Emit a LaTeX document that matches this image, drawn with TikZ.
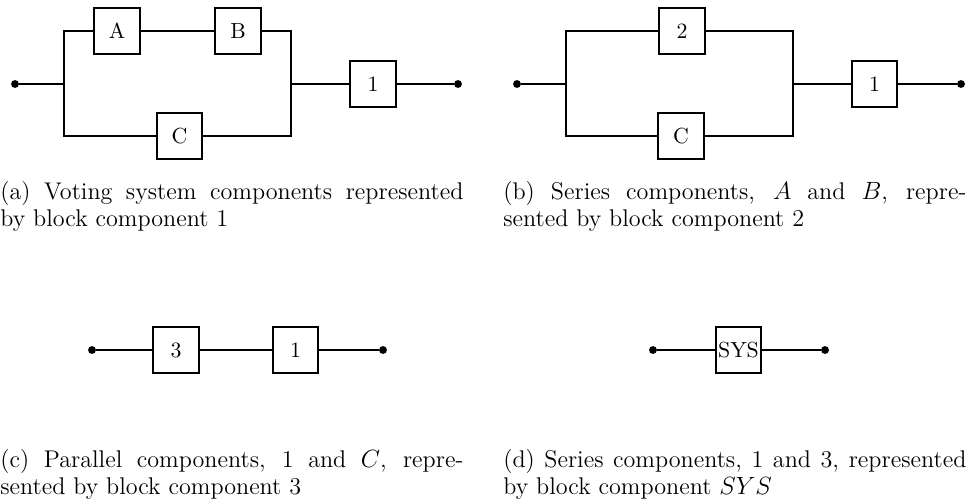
\documentclass[tikz,border=0pt]{standalone}
\usepackage{amsmath,amssymb}
\usepackage{tikz}
\usetikzlibrary{positioning, calc}

\begin{document}
\begin{tikzpicture}[x=0.4808pt, y=-0.4808pt,
  blk/.style={draw, line width=0.9pt, minimum size=22pt, inner sep=0pt, font=\fontsize{10.5}{12}\selectfont},
  dot/.style={circle, fill, inner sep=0pt, minimum size=3.8pt},
  wire/.style={line width=0.9pt},
  capt/.style={anchor=north west, inner sep=0pt, text width=222.6pt, align=justify, font=\fontsize{11.6}{13}\selectfont}]
\useasboundingbox (0,0) rectangle (970,504);

% (a) voting system
\node[dot] (a-s) at (15,84) {};
\coordinate (a-jl) at (64,84);
\coordinate (a-jr) at (291,84);
\node[blk] (a-A) at (117,31) {A};
\node[blk] (a-B) at (238,31) {B};
\node[blk] (a-C) at (179.5,136) {C};
\node[blk] (a-1) at (373,84) {1};
\node[dot] (a-t) at (458,84) {};
\draw[wire] (a-s) -- (a-jl);
\draw[wire] (a-A.west) -| (a-jl) |- (a-C.west);
\draw[wire] (a-A) -- (a-B);
\draw[wire] (a-B.east) -| (a-jr) |- (a-C.east);
\draw[wire] (a-jr) -- (a-1) -- (a-t);
\node[capt] (a-cap) at (0,181) {(a) Voting system components represented\linebreak by block component 1};

% (b) A and B in series -> 2
\node[dot] (b-s) at (517,84) {};
\coordinate (b-jl) at (566,84);
\coordinate (b-jr) at (793,84);
\node[blk] (b-2) at (682,31) {2};
\node[blk] (b-C) at (681,136) {C};
\node[blk] (b-1) at (874.5,84) {1};
\node[dot] (b-t) at (961,84) {};
\draw[wire] (b-s) -- (b-jl);
\draw[wire] (b-2.west) -| (b-jl) |- (b-C.west);
\draw[wire] (b-2.east) -| (b-jr) |- (b-C.east);
\draw[wire] (b-jr) -- (b-1) -- (b-t);
\node[capt] (b-cap) at (503,181) {(b) Series components, $A$ and $B$, repre-\linebreak sented by block component 2};

% (c) 1 and C in parallel -> 3
\node[dot] (c-s) at (92,350) {};
\node[blk] (c-3) at (176,350) {3};
\node[blk] (c-1) at (295.5,350) {1};
\node[dot] (c-t) at (383,350) {};
\draw[wire] (c-s) -- (c-3) -- (c-1) -- (c-t);
\node[capt] (c-cap) at (0,448.6) {(c) Parallel components, 1 and $C$, repre-\linebreak sented by block component 3};

% (d) 1 and 3 in series -> SYS
\node[dot] (d-s) at (653,350) {};
\node[blk] (d-sys) at (738.5,350) {SYS};
\node[dot] (d-t) at (825,350) {};
\draw[wire] (d-s) -- (d-sys) -- (d-t);
\node[capt] (d-cap) at (503,448.6) {(d) Series components, 1 and 3, represented\linebreak by block component $SYS$};
\end{tikzpicture}
\end{document}
